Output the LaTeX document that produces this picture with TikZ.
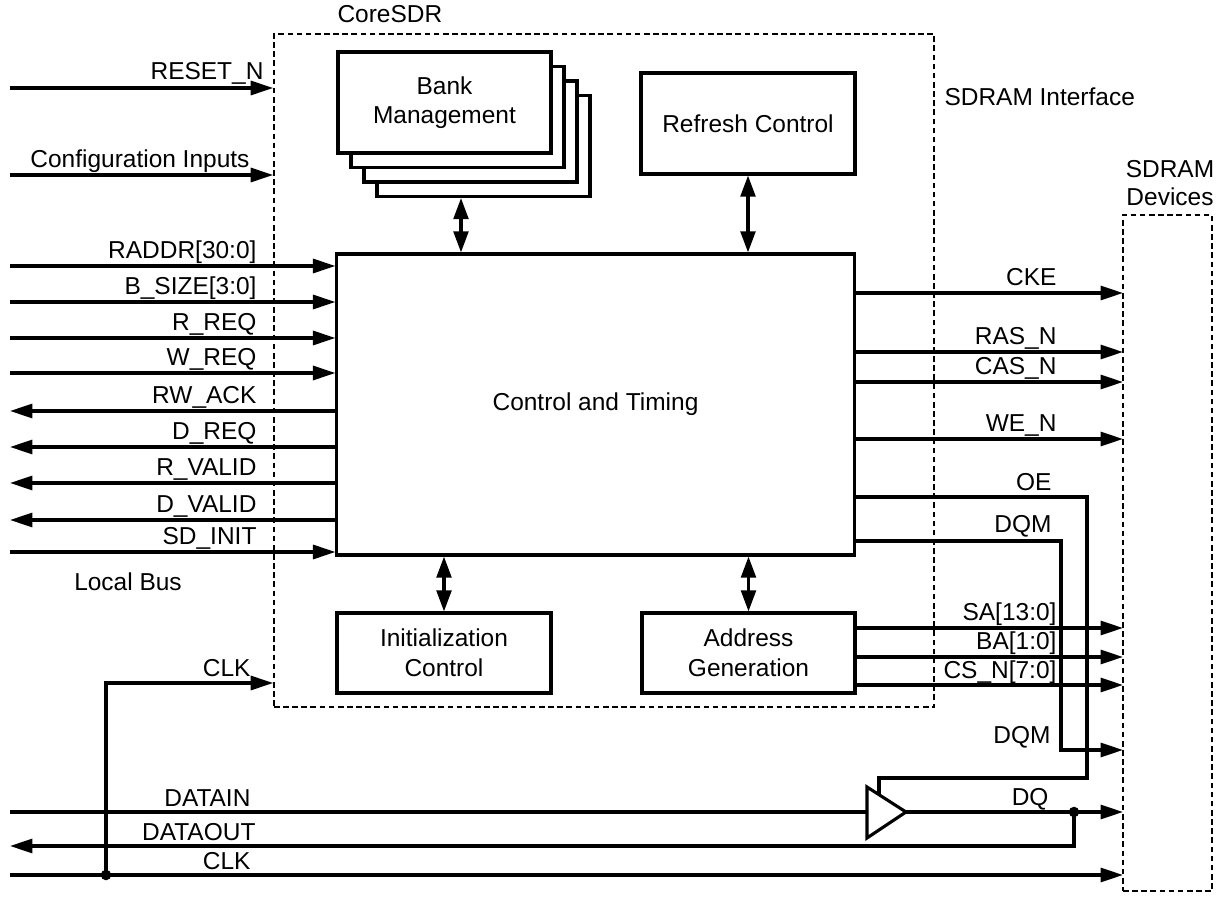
\documentclass[tikz,border=0pt]{standalone}
\usepackage{fontspec}
\setmainfont{Liberation Sans}
\usetikzlibrary{arrows.meta}

\begin{document}
\begin{tikzpicture}[x=0.025cm,y=-0.025cm,line width=2.2pt,
    font=\fontsize{17.4}{21}\selectfont,
    block_node/.style={draw,fill=white,align=center,inner sep=0pt},
    dash_box/.style={draw,line width=1.1pt,dash pattern=on 4pt off 2.5pt,inner sep=0pt},
    sig_label/.style={inner sep=0pt,anchor=base east},
    dot_node/.style={circle,fill,inner sep=0pt,minimum size=7.5pt},
    sig_line/.style={-{Triangle[length=16pt,width=10pt]}},
    bi_line/.style={{Triangle[length=15pt,width=10.5pt]}-{Triangle[length=15pt,width=10.5pt]}}]

    \useasboundingbox (0,0) rectangle (1225,905);

    % frames
    \node[dash_box,minimum width=16.5cm,minimum height=16.825cm] (core) at (604,370.5) {};
    \node[dash_box,minimum width=2.225cm,minimum height=16.9cm] (dev) at (1167.5,553) {};
    \node[anchor=base west,inner sep=0pt] (core_lab) at (336,23) {CoreSDR};
    \node[anchor=base west,inner sep=0pt] (if_lab) at (943,106) {SDRAM Interface};
    \node[align=center,inner sep=0pt,font=\fontsize{17.4}{20}\selectfont] (dev_lab) at (1170,183) {SDRAM\\Devices};
    \node[inner sep=0pt] (bus_lab) at (128,582) {Local Bus};

    % blocks
    \node[block_node,minimum width=5.325cm,minimum height=2.525cm] (bank3) at (483.5,146) {};
    \node[block_node,minimum width=5.325cm,minimum height=2.525cm] (bank2) at (470.5,131.5) {};
    \node[block_node,minimum width=5.325cm,minimum height=2.525cm] (bank1) at (457.5,117) {};
    \node[block_node,minimum width=5.325cm,minimum height=2.525cm] (bank) at (444.5,102.5) {Bank\\Management};
    \node[block_node,minimum width=5.35cm,minimum height=2.525cm] (refresh) at (748,123.5) {Refresh Control};
    \node[block_node,minimum width=12.925cm,minimum height=7.525cm] (ct) at (595.5,404.5) {Control and Timing};
    \node[block_node,minimum width=5.35cm,minimum height=2cm] (init) at (444,653) {Initialization\\Control};
    \node[block_node,minimum width=5.325cm,minimum height=2cm] (addr) at (748.5,653) {Address\\Generation};

    \coordinate (bk) at (461,0);
    \draw[bi_line] (bank3.south -| bk) -- (ct.north -| bk);
    \draw[bi_line] (refresh.south) -- (ct.north -| refresh.south);
    \draw[bi_line] (ct.south -| init.north) -- (init.north);
    \draw[bi_line] (ct.south -| addr.north) -- (addr.north);

    % local bus side
    \coordinate (rst) at (10,88);
    \coordinate (cfg) at (10,175);
    \draw[sig_line] (rst) -- (core.west |- rst);
    \draw[sig_line] (cfg) -- (core.west |- cfg);
    \node[sig_label] (rst_lab) at (265,80) {RESET\_N};
    \node[sig_label] (cfg_lab) at (251,168) {Configuration Inputs};

    \foreach \y/\txt [count=\i] in {266/RADDR[30:0],302/B\_SIZE[3:0],338/R\_REQ,373/W\_REQ,552/SD\_INIT} {
        \coordinate (in\i) at (10,\y);
        \draw[sig_line] (in\i) -- (ct.west |- in\i);
        \node[sig_label] (in_lab\i) at (258,\y-7) {\txt};
    }
    \foreach \y/\txt [count=\i] in {411/RW\_ACK,447/D\_REQ,483/R\_VALID,520/D\_VALID} {
        \coordinate (out\i) at (10,\y);
        \draw[sig_line] (ct.west |- out\i) -- (out\i);
        \node[sig_label] (out_lab\i) at (258,\y-7) {\txt};
    }

    % sdram side
    \foreach \y/\txt [count=\i] in {293/CKE,352/RAS\_N,382/CAS\_N,439/WE\_N} {
        \coordinate (dv\i) at (1123,\y);
        \draw[sig_line] (ct.east |- dv\i) -- (dv\i);
        \node[sig_label] (dv_lab\i) at (1058,\y-7) {\txt};
    }
    \foreach \y/\txt [count=\i] in {628/SA[13:0],657/BA[1:0],685/CS\_N[7:0]} {
        \coordinate (ad\i) at (1123,\y);
        \draw[sig_line] (addr.east |- ad\i) -- (ad\i);
        \node[sig_label] (ad_lab\i) at (1058,\y-7) {\txt};
    }

    % OE and DQM
    \coordinate (oe_r) at (1087,497);
    \coordinate (oe_d) at (1087,778);
    \coordinate (oe_l) at (879,778);
    \coordinate (buf_en) at (879,794.7);
    \draw (ct.east |- oe_r) -- (oe_r) -- (oe_d) -- (oe_l) -- (buf_en);
    \node[sig_label] (oe_lab) at (1053,491) {OE};

    \coordinate (dqm_r) at (1061,541);
    \coordinate (dqm_d) at (1061,750);
    \coordinate (dqm_o) at (1123,750);
    \draw[sig_line] (ct.east |- dqm_r) -- (dqm_r) -- (dqm_d) -- (dqm_o);
    \node[sig_label] (dqm_lab) at (1053,533) {DQM};
    \node[sig_label] (dqm_lab2) at (1052,743) {DQM};

    % data buffer
    \coordinate (buf_in) at (867,812);
    \coordinate (buf_out) at (906,812);
    \coordinate (buf_t) at (867,787);
    \coordinate (buf_b) at (867,838);
    \draw (buf_t) -- (buf_out) -- (buf_b) -- cycle;

    \coordinate (din) at (10,812);
    \coordinate (dq_o) at (1123,812);
    \coordinate (dout) at (10,846);
    \node[dot_node] (dq_dot) at (1074,812) {};
    \draw (din) -- (buf_in);
    \draw[sig_line] (buf_out) -- (dq_o);
    \draw[sig_line] (dq_dot.center) -- (dq_dot.center |- dout) -- (dout);
    \node[sig_label] (dq_lab) at (1050,805) {DQ};
    \node[sig_label] (din_lab) at (252,806) {DATAIN};
    \node[sig_label] (dout_lab) at (257,840) {DATAOUT};

    % clock
    \coordinate (clk_l) at (10,875);
    \coordinate (clk_r) at (1123,875);
    \coordinate (clk_in) at (106,683);
    \node[dot_node] (clk_dot) at (106,875) {};
    \draw[sig_line] (clk_l) -- (clk_r);
    \draw[sig_line] (clk_dot.center) -- (clk_in) -- (core.west |- clk_in);
    \node[sig_label] (clk_lab) at (252,676) {CLK};
    \node[sig_label] (clk_lab2) at (252,869) {CLK};
\end{tikzpicture}
\end{document}
